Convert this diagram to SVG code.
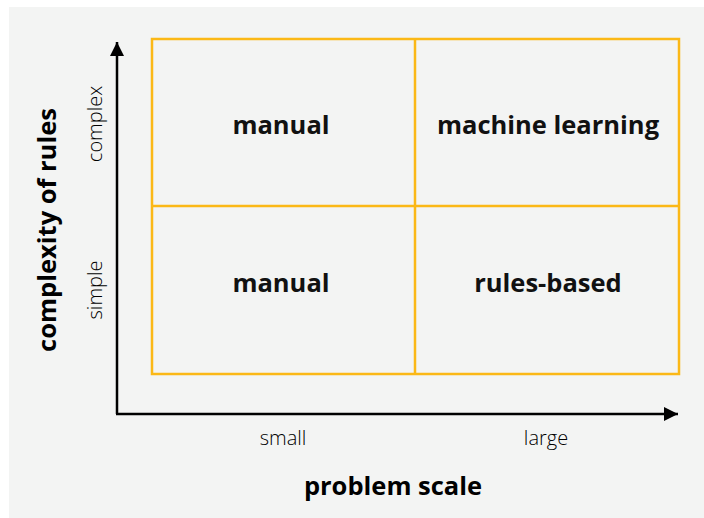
<svg xmlns="http://www.w3.org/2000/svg" width="704" height="518" viewBox="0 0 704 518">
  <style>
    .cell { fill: none; stroke: #fbb816; stroke-width: 2.5; }
    .axis { fill: none; stroke: #000; stroke-width: 2.5; }
    .quad { font-family: "Open Sans", "Liberation Sans", sans-serif; font-weight: 700; font-size: 25.5px; fill: #111; text-anchor: middle; }
    .title { font-family: "Open Sans", "Liberation Sans", sans-serif; font-weight: 700; font-size: 25.5px; fill: #000; text-anchor: middle; }
    .tick { font-family: "Open Sans", "Liberation Sans", sans-serif; font-weight: 300; font-size: 20px; fill: #000; text-anchor: middle; }
  </style>
  <defs>
    <marker id="arrow" viewBox="0 0 10 10" refX="10" refY="5" markerUnits="userSpaceOnUse" markerWidth="19" markerHeight="14" orient="auto">
      <path d="M0,0 L10,5 L0,10 Z" fill="#000"/>
    </marker>
  </defs>

  <!-- backdrop -->
  <rect x="9" y="7" width="695" height="511" fill="#f3f4f3"/>

  <!-- quadrant grid -->
  <g id="grid">
    <rect class="cell" x="152" y="39" width="527" height="335"/>
    <line class="cell" x1="415" y1="39" x2="415" y2="374"/>
    <line class="cell" x1="152" y1="206" x2="679" y2="206"/>
  </g>

  <!-- quadrant labels -->
  <g id="q-manual-complex"><text class="quad" x="281" y="134">manual</text></g>
  <g id="q-ml"><text class="quad" x="548" y="134">machine learning</text></g>
  <g id="q-manual-simple"><text class="quad" x="281" y="292">manual</text></g>
  <g id="q-rules"><text class="quad" x="548" y="292">rules-based</text></g>

  <!-- axes -->
  <g id="axes">
    <path class="axis" d="M117,414 L117,42" marker-end="url(#arrow)"/>
    <path class="axis" d="M116,414 L678,414" marker-end="url(#arrow)"/>
  </g>

  <!-- axis labels -->
  <g id="y-labels">
    <text class="title" transform="translate(56,230) rotate(-90)">complexity of rules</text>
    <text class="tick" transform="translate(102,124) rotate(-90)">complex</text>
    <text class="tick" transform="translate(102,290) rotate(-90)">simple</text>
  </g>
  <g id="x-labels">
    <text class="tick" x="283" y="445">small</text>
    <text class="tick" x="546" y="445">large</text>
    <text class="title" x="393" y="495">problem scale</text>
  </g>
</svg>
